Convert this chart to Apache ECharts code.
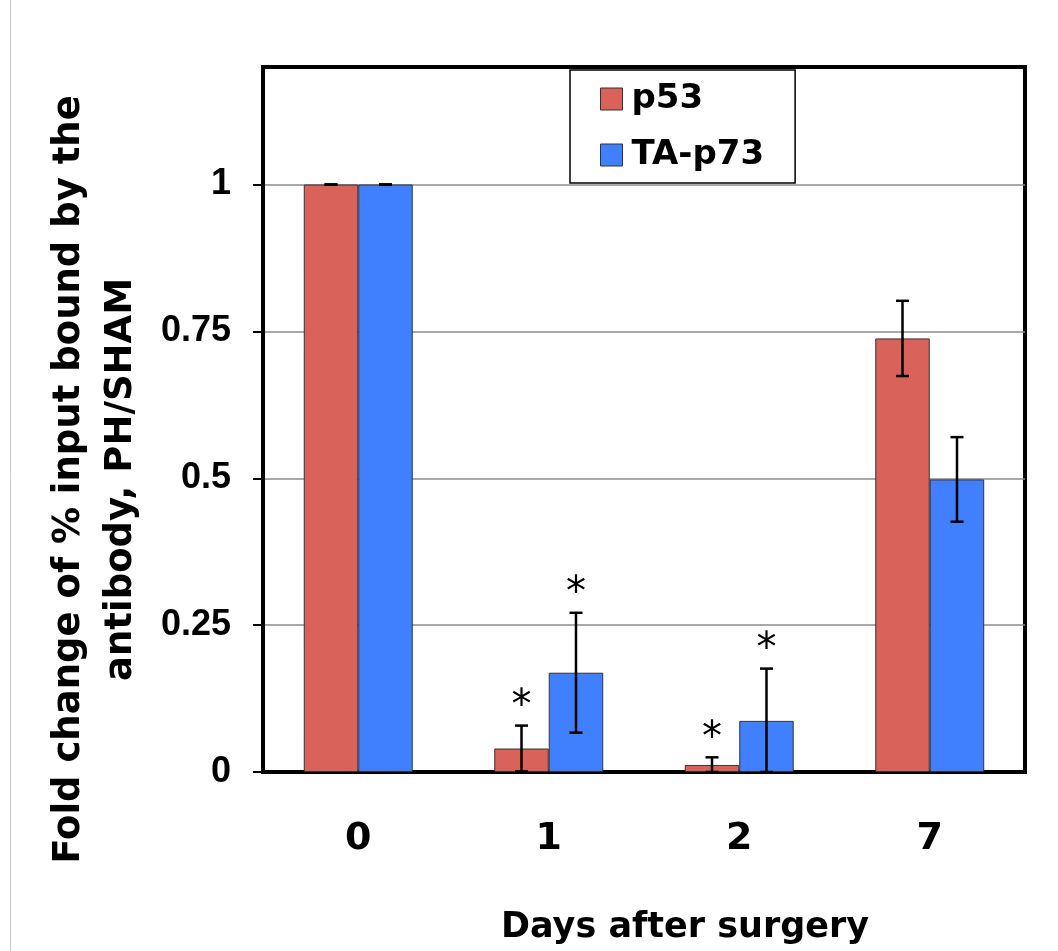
<!DOCTYPE html>
<html>
<head>
<meta charset="utf-8">
<script src="https://cdn.jsdelivr.net/npm/echarts@6/dist/echarts.min.js"></script>
<style>
  html, body { margin: 0; padding: 0; background: #fff; }
  #chart { width: 1058px; height: 951px; }
</style>
</head>
<body>
<div id="chart"></div>
<script>
// data
const days = ['0', '1', '2', '7'];
const p53 = [1, 0.04, 0.012, 0.738];
const p53Err = [0, 0.039, 0.013, 0.064];
const p53Sig = [0, 1, 1, 0];
const p73 = [1, 0.169, 0.087, 0.498];
const p73Err = [0, 0.102, 0.089, 0.072];
const p73Sig = [0, 1, 1, 0];
const yTicks = [0, 0.25, 0.5, 0.75, 1];

const RED = '#d9625a';
const BLUE = '#4080ff';
const BAR_RATIO = 0.286; // bar width / category width

const chart = echarts.init(document.getElementById('chart'));

// error bars + asterisks, side -1 = left bar, +1 = right bar
function errorSeries (name, vals, errs, sig, side) {
  return {
    name: name + ' err',
    type: 'custom',
    z: 5,
    silent: true,
    encode: { x: 0, y: 1 },
    data: vals.map((v, i) => [i, v, errs[i], sig[i]]),
    renderItem: function (params, api) {
      const idx = api.value(0)
      const v = api.value(1)
      const e = api.value(2)
      const bandW = api.size([1, 0])[0]
      const off = side * bandW * BAR_RATIO / 2
      const top = api.coord([idx, v + e])
      const bot = api.coord([idx, Math.max(0, v - e)])
      const x = top[0] + off
      const st = { stroke: '#000', lineWidth: 2.5 }
      const children = [
        { type: 'line', shape: { x1: x, y1: top[1], x2: x, y2: bot[1] }, style: st },
        { type: 'line', shape: { x1: x - 6.5, y1: top[1], x2: x + 6.5, y2: top[1] }, style: st },
        { type: 'line', shape: { x1: x - 6.5, y1: bot[1], x2: x + 6.5, y2: bot[1] }, style: st }
      ]
      if (api.value(3)) {
        children.push({
          type: 'text',
          style: {
            text: '*',
            x: x,
            y: top[1] - 18,
            align: 'center',
            verticalAlign: 'middle',
            fontFamily: 'DejaVu Sans',
            fontSize: 40,
            fill: '#000'
          }
        })
      }
      return { type: 'group', children: children }
    }
  }
}

const option = {
  backgroundColor: '#fff',
  animation: false,
  grid: {
    left: 263,
    right: 33,
    top: 67,
    bottom: 179,
    outerBoundsMode: 'none',
    containLabel: false,
    show: true,
    borderColor: '#000',
    borderWidth: 4,
    backgroundColor: 'transparent'
  },
  legend: {
    data: ['p53', 'TA-p73'],
    orient: 'vertical',
    left: 570,
    top: 70,
    padding: [12, 31, 11, 30],
    itemGap: 22,
    itemWidth: 22,
    itemHeight: 22,
    icon: 'rect',
    backgroundColor: '#fff',
    borderColor: '#000',
    borderWidth: 1.5,
    borderRadius: 0,
    itemStyle: { borderColor: '#333', borderWidth: 1 },
    textStyle: {
      fontFamily: 'DejaVu Sans',
      fontWeight: 'bold',
      fontSize: 34,
      color: '#000',
      padding: [0, 0, 0, 4]
    }
  },
  xAxis: {
    type: 'category',
    data: days,
    name: 'Days after surgery',
    nameLocation: 'middle',
    nameGap: 138,
    nameTextStyle: {
      fontFamily: 'DejaVu Sans',
      fontWeight: 'bold',
      fontSize: 35,
      color: '#000',
      padding: [0, 0, 0, 82]
    },
    axisLine: { lineStyle: { color: '#000', width: 3 } },
    axisTick: { length: 13, lineStyle: { color: '#000', width: 2 } },
    axisLabel: {
      margin: 48,
      fontFamily: 'DejaVu Sans',
      fontWeight: 'bold',
      fontSize: 38,
      color: '#000'
    }
  },
  yAxis: {
    type: 'value',
    min: 0,
    max: 1.2,
    interval: 0.25,
    name: 'Fold change of % input bound by the\nantibody, PH/SHAM',
    nameLocation: 'middle',
    nameGap: 116,
    nameTextStyle: {
      fontFamily: 'DejaVu Sans',
      fontWeight: 'bold',
      fontSize: 37,
      lineHeight: 52,
      color: '#000',
      align: 'center',
      padding: [0, 120, 0, 0]
    },
    axisLine: { show: true, lineStyle: { color: '#000', width: 3 } },
    axisTick: {
      show: true,
      length: 10,
      customValues: yTicks,
      lineStyle: { color: '#000', width: 2 }
    },
    splitLine: { lineStyle: { color: '#8c8c8c', width: 1.5 } },
    axisLabel: {
      margin: 32,
      customValues: yTicks,
      fontFamily: 'Liberation Sans',
      fontWeight: 'bold',
      fontSize: 36,
      color: '#000'
    }
  },
  graphic: [
    { type: 'line', shape: { x1: 10.5, y1: 0, x2: 10.5, y2: 951 }, style: { stroke: '#cccccc', lineWidth: 1 }, silent: true }
  ],
  series: [
    {
      name: 'p53',
      type: 'bar',
      data: p53,
      barWidth: (BAR_RATIO * 100) + '%',
      barGap: '0%',
      itemStyle: { color: RED, borderColor: '#333', borderWidth: 1 }
    },
    {
      name: 'TA-p73',
      type: 'bar',
      data: p73,
      barWidth: (BAR_RATIO * 100) + '%',
      barGap: '0%',
      itemStyle: { color: BLUE, borderColor: '#333', borderWidth: 1 }
    },
    errorSeries('p53', p53, p53Err, p53Sig, -1),
    errorSeries('TA-p73', p73, p73Err, p73Sig, 1)
  ]
}

chart.setOption(option)
</script>
</body>
</html>
